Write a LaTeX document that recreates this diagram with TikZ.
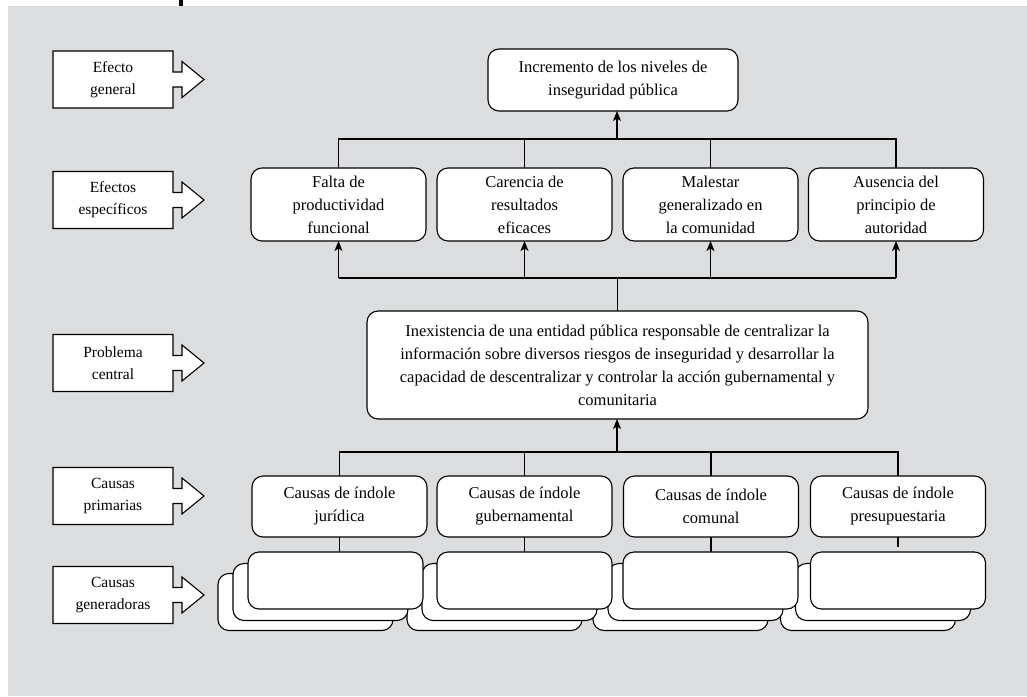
\documentclass[tikz,border=0pt]{standalone}
\usepackage{fontspec}
\setmainfont{Liberation Serif}
\usetikzlibrary{arrows.meta,calc}
\definecolor{panel}{RGB}{220,221,223}

% tag box on the left with its block arrow pointing right
\newcommand{\lblarrow}[4]{%
  \begin{scope}[shift={(#2,#3)}]
    \draw[lblline] (-60,-28.5) -- (60,-28.5) -- (60,-7.5) -- (69,-7.5) -- (69,-18)
      -- (91,0) -- (69,18) -- (69,7.5) -- (60,7.5) -- (60,28.5) -- (-60,28.5) -- cycle;
    \node[lbltext] (#1) at (0,0) {#4};
  \end{scope}}

\begin{document}
\begin{tikzpicture}[x=1pt,y=-1pt,
  every node/.style={inner sep=0pt, outer sep=0pt},
  lblline/.style={draw, fill=white, line width=1.1pt, line join=miter},
  lbltext/.style={align=center, font=\fontsize{15.5}{22}\selectfont},
  rbox/.style={draw, fill=white, rounded corners=11pt, line width=1.1pt,
    align=center, font=\fontsize{16.5}{23}\selectfont},
  effbox/.style={rbox, minimum width=175pt, minimum height=73pt},
  causebox/.style={rbox, minimum width=175pt, minimum height=61pt},
  genbox/.style={draw, fill=white, rounded corners=11pt, line width=1.1pt,
    minimum width=175pt, minimum height=57pt},
  link/.style={line width=1.1pt},
  arr/.style={link, -{Stealth[length=10pt,width=8pt,inset=2.5pt]}}
]
\useasboundingbox (0,0) rectangle (1027,696);
\fill[panel] (8,6) rectangle (1027,696);
\fill[black] (179,0) rectangle (183,6);

% row tags
\lblarrow{tagA}{113}{79.5}{Efecto\\general}
\lblarrow{tagB}{113}{200}{Efectos\\específicos}
\lblarrow{tagC}{113}{363}{Problema\\central}
\lblarrow{tagD}{113}{496}{Causas\\primarias}
\lblarrow{tagE}{113}{595}{Causas\\generadoras}

% general effect
\node[rbox, minimum width=250pt, minimum height=62pt] (top) at (613,80)
  {Incremento de los niveles de\\inseguridad pública};

% specific effects
\node[effbox] (e1) at (338.5,204.5) {Falta de\\productividad\\funcional};
\node[effbox] (e2) at (524.5,204.5) {Carencia de\\resultados\\eficaces};
\node[effbox] (e3) at (710.5,204.5) {Malestar\\generalizado en\\la comunidad};
\node[effbox] (e4) at (896,204.5) {Ausencia del\\principio de\\autoridad};

% central problem
\node[rbox, minimum width=501pt, minimum height=108pt] (prob) at (617.5,365)
  {Inexistencia de una entidad pública responsable de centralizar la\\
   información sobre diversos riesgos de inseguridad y desarrollar la\\
   capacidad de descentralizar y controlar la acción gubernamental y\\
   comunitaria};

% primary causes
\node[causebox] (p1) at (339.5,506.5) {Causas de índole\\jurídica};
\node[causebox] (p2) at (524.5,506.5) {Causas de índole\\gubernamental};
\node[causebox] (p3) at (711,506.5) {Causas de índole\\comunal};
\node[causebox] (p4) at (898,506.5) {Causas de índole\\presupuestaria};

% generating causes: stacked cards, back layer first
\foreach \n/\x in {1/335.5, 2/524.5, 3/710.5, 4/898}
  \node[genbox] (g\n c) at (\x-30,602) {};
\foreach \n/\x in {1/335.5, 2/524.5, 3/710.5, 4/898}
  \node[genbox] (g\n b) at (\x-15,592) {};
\foreach \n/\x in {1/335.5, 2/524.5, 3/710.5, 4/898}
  \node[genbox] (g\n) at (\x,580.5) {};

% bus lines
\coordinate (busA) at (617,139);
\coordinate (busB) at (617,278);
\coordinate (busC) at (617,452);

% specific effects feed the general effect
\draw[link] (e1.north) |- (busA);
\draw[link] (e4.north) |- (busA);
\draw[link] (e2.north) -- (e2.north |- busA);
\draw[link] (e3.north) -- (e3.north |- busA);
\draw[arr] (busA) -- (busA |- top.south);

% central problem feeds the specific effects
\draw[link] (prob.north) -- (prob.north |- busB);
\draw[link] (e1.south |- busB) -- (e4.south |- busB);
\foreach \e in {e1,e2,e3,e4}
  \draw[arr] (\e.south |- busB) -- (\e.south);

% primary causes feed the central problem
\draw[link] (p1.north) |- (busC);
\draw[link] (p4.north) |- (busC);
\draw[link] (p2.north) -- (p2.north |- busC);
\draw[link] (p3.north) -- (p3.north |- busC);
\draw[arr] (busC) -- (busC |- prob.south);

% primary causes to generating causes
\draw[link] (p1.south) -- (p1.south |- g1.north);
\draw[link] (p2.south) -- (p2.south |- g2.north);
\draw[link] (p3.south) -- (p3.south |- g3.north);
\coordinate (p4end) at ($(p4.south)+(0,10)$);
\draw[link] (p4.south) -- (p4end);
\end{tikzpicture}
\end{document}
